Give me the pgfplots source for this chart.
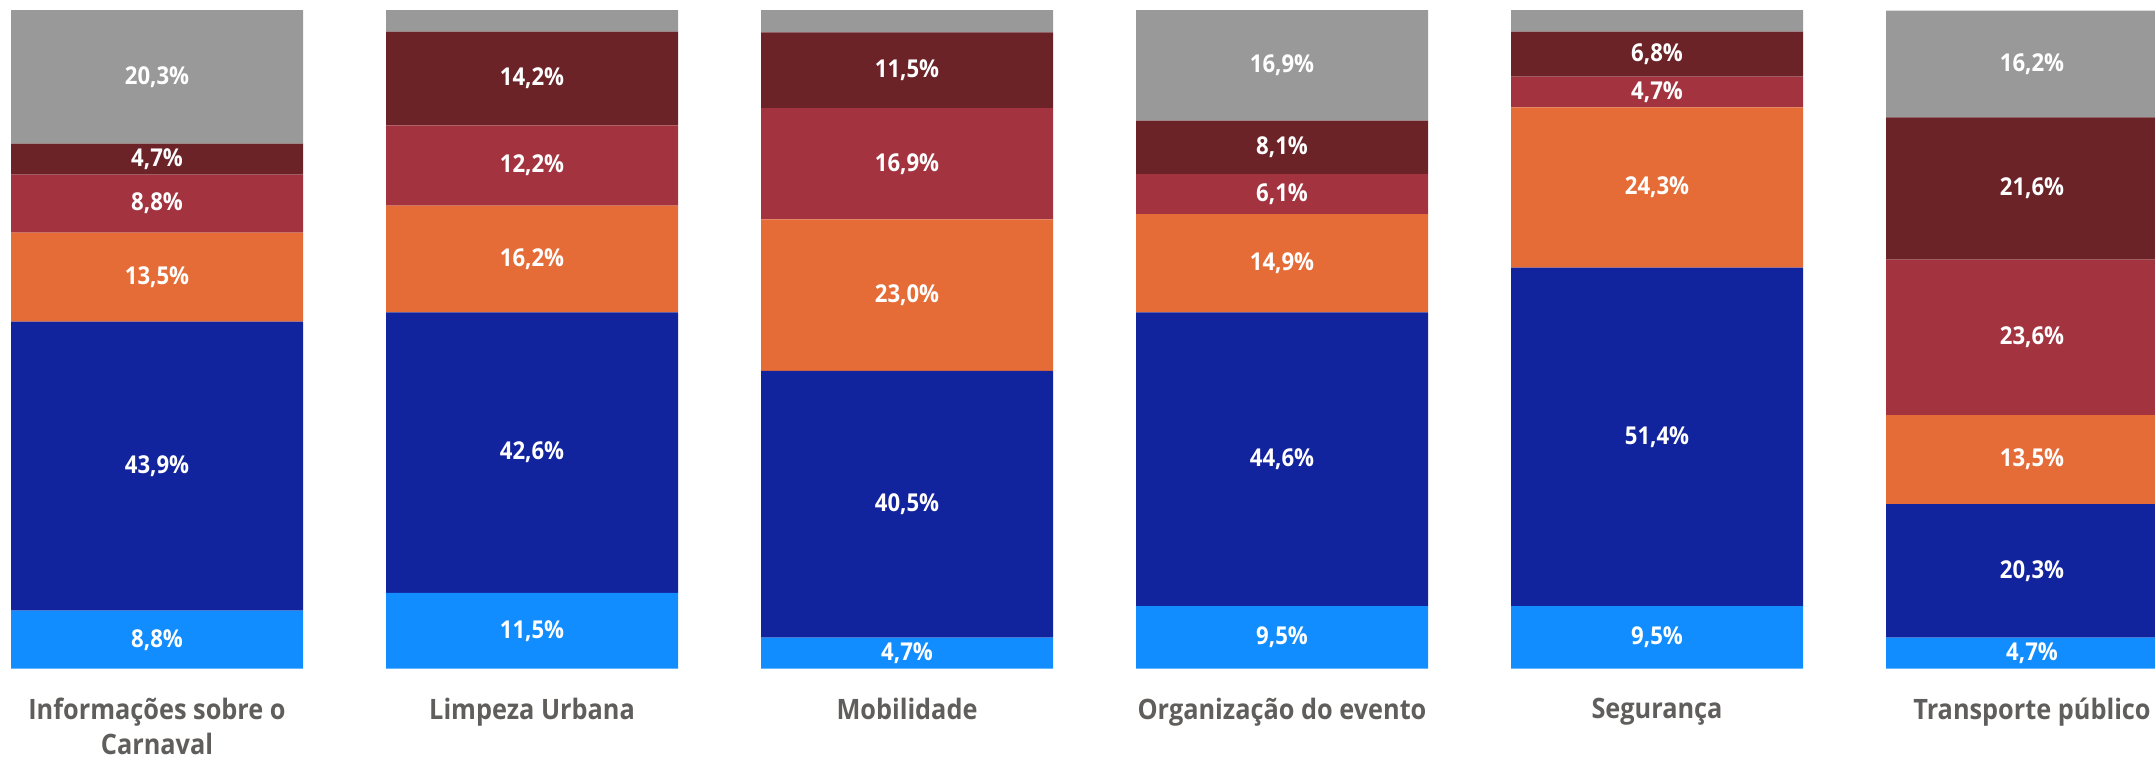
\documentclass[border=0pt]{standalone}
\usepackage{fontspec}
\setmainfont{Open Sans}[FakeStretch=0.9]
\usepackage{pgfplots}
\usepackage{pgfplotstable}
\pgfplotsset{compat=1.18}
\definecolor{c1}{HTML}{118DFF}
\definecolor{c2}{HTML}{12239E}
\definecolor{c3}{HTML}{E66C37}
\definecolor{c4}{HTML}{A3343F}
\definecolor{c5}{HTML}{6B2328}
\definecolor{c6}{HTML}{999999}
\definecolor{tickgray}{HTML}{605E5C}
% label positions: middle of each stacked segment
\pgfplotstableread{
x y lab
0 4.4 {8,8\%}
0 30.75 {43,9\%}
0 59.45 {13,5\%}
0 70.6 {8,8\%}
0 77.35 {4,7\%}
0 89.85 {20,3\%}
1 5.75 {11,5\%}
1 32.8 {42,6\%}
1 62.2 {16,2\%}
1 76.4 {12,2\%}
1 89.6 {14,2\%}
2 2.35 {4,7\%}
2 24.95 {40,5\%}
2 56.7 {23,0\%}
2 76.65 {16,9\%}
2 90.85 {11,5\%}
3 4.75 {9,5\%}
3 31.8 {44,6\%}
3 61.55 {14,9\%}
3 72.05 {6,1\%}
3 79.15 {8,1\%}
3 91.65 {16,9\%}
4 4.75 {9,5\%}
4 35.2 {51,4\%}
4 73.05 {24,3\%}
4 87.55 {4,7\%}
4 93.3 {6,8\%}
5 2.35 {4,7\%}
5 14.85 {20,3\%}
5 31.75 {13,5\%}
5 50.3 {23,6\%}
5 72.9 {21,6\%}
5 91.8 {16,2\%}
}\tL
\begin{document}
\begin{tikzpicture}
\begin{axis}[
 at={(0,0.893cm)}, anchor=south west,
 scale only axis, width=21.55cm, height=6.587cm,
 xmin=-0.4187, xmax=5.328, ymin=0, ymax=100,
 ybar stacked, bar width=2.92cm,
 axis line style={draw=none}, tick style={draw=none},
 ytick=\empty, xtick={0,1,2,3,4,5},
 xticklabels={{Informações sobre o\\Carnaval},{Limpeza Urbana},{Mobilidade},{Organização do evento},{Segurança},{Transporte público}},
 xticklabel style={align=center, font=\fontsize{8}{10}\selectfont\bfseries, text=tickgray, anchor=north, yshift=-0.17cm},
]
\addplot[fill=c1, draw=none] coordinates {(0,8.8) (1,11.5) (2,4.7) (3,9.5) (4,9.5) (5,4.7)};
\addplot[fill=c2, draw=none] coordinates {(0,43.9) (1,42.6) (2,40.5) (3,44.6) (4,51.4) (5,20.3)};
\addplot[fill=c3, draw=none] coordinates {(0,13.5) (1,16.2) (2,23.0) (3,14.9) (4,24.3) (5,13.5)};
\addplot[fill=c4, draw=none] coordinates {(0,8.8) (1,12.2) (2,16.9) (3,6.1) (4,4.7) (5,23.6)};
\addplot[fill=c5, draw=none] coordinates {(0,4.7) (1,14.2) (2,11.5) (3,8.1) (4,6.8) (5,21.6)};
\addplot[fill=c6, draw=none] coordinates {(0,20.3) (1,3.3) (2,3.4) (3,16.9) (4,3.3) (5,16.2)};
\end{axis}
\begin{axis}[
 at={(0,0.893cm)}, anchor=south west,
 scale only axis, width=21.55cm, height=6.587cm,
 xmin=-0.4187, xmax=5.328, ymin=0, ymax=100,
 hide axis, clip=false,
 point meta=explicit symbolic,
]
\addplot[only marks, mark=*, mark size=0pt, mark options={draw=none, fill=none},
 nodes near coords={\pgfplotspointmeta},
 every node near coord/.append style={anchor=center, font=\fontsize{7}{8}\selectfont\bfseries, text=white}]
 table[x=x, y=y, meta=lab] {\tL};
\end{axis}
\pgfresetboundingbox
\useasboundingbox (0,0) rectangle (21.55cm,7.58cm);
\end{tikzpicture}
\end{document}
